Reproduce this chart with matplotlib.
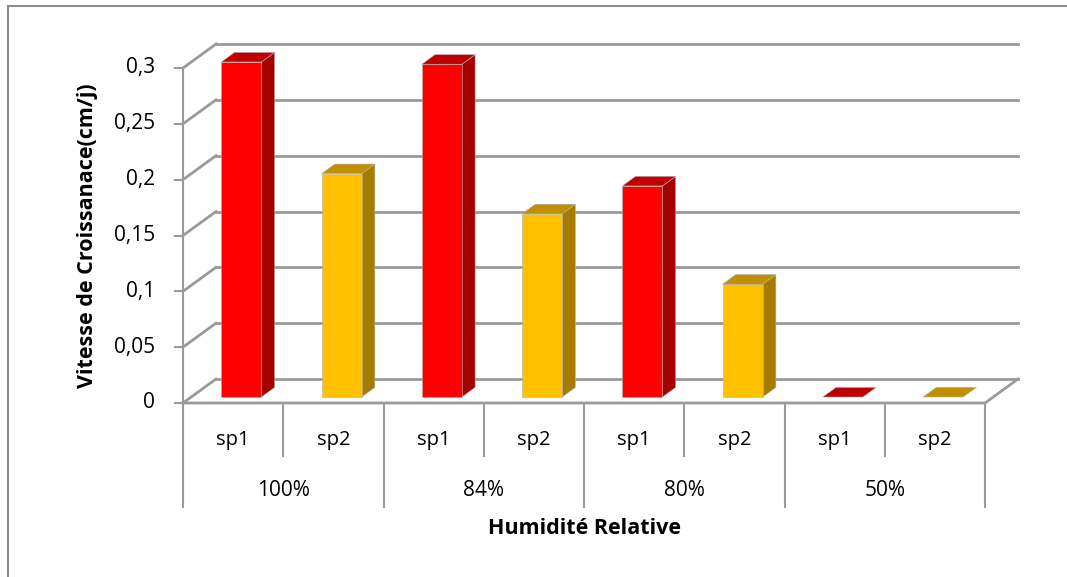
import matplotlib.pyplot as plt
from matplotlib.patches import Polygon

# donnees
groupes = ['100%', '84%', '80%', '50%']
especes = ['sp1', 'sp2']
vitesse_sp1 = [0.30, 0.298, 0.189, 0.0]
vitesse_sp2 = [0.20, 0.164, 0.101, 0.0]
graduations = [0, 0.05, 0.1, 0.15, 0.2, 0.25, 0.3]
labels_grad = ['0', '0,05', '0,1', '0,15', '0,2', '0,25', '0,3']

# couleurs (face, cote, dessus)
couleurs = {
    'sp1': ('#FF0000', '#A50000', '#C00000'),
    'sp2': ('#FFC000', '#A67C00', '#C09000'),
}

W, H = 1067, 577
fig = plt.figure(figsize=(W / 100, H / 100), dpi=100)
fig.patch.set_facecolor('white')

# cadre exterieur (seulement haut et gauche visibles)
fig.add_artist(plt.Line2D([8 / W, 1.0], [1 - 6 / H, 1 - 6 / H], color='#8c8c8c', lw=1.5))
fig.add_artist(plt.Line2D([8 / W, 8 / W], [0, 1 - 6 / H], color='#8c8c8c', lw=1.5))

x0, x1, yb, yt = 183, 985, 403, 68
ax = fig.add_axes([x0 / W, 1 - yb / H, (x1 - x0) / W, (yb - yt) / H])
n = len(groupes) * len(especes)
ax.set_xlim(0, n)
ax.set_ylim(0, 0.3)
ax.axis('off')

px_x = n / (x1 - x0)
px_y = 0.3 / (yb - yt)
DX = 33 * px_x
DY = 24 * px_y
gris = '#9a9a9a'
police = 'Open Sans'
taille = 14.5

# mur du fond et cote gauche
for g, lab in zip(graduations, labels_grad):
    ax.plot([DX, n + DX], [g + DY, g + DY], color=gris, lw=2, clip_on=False, zorder=1)
    ax.plot([0, DX], [g, g + DY], color=gris, lw=2, clip_on=False, zorder=1)
    ax.plot([-8 * px_x, 0], [g, g], color=gris, lw=1.5, clip_on=False)
    ax.text(-28 * px_x, g, lab, ha='right', va='center', fontsize=15, family=police)

# sol
ax.plot([0, n, n + DX], [0, 0, DY], color=gris, lw=2, clip_on=False, zorder=1)
ax.plot([0, 0], [0, 0.3], color=gris, lw=1.5, clip_on=False, zorder=2)

# barres 3D
larg = 0.4
f0, prof = 0.25, 0.4
valeurs = []
for i in range(len(groupes)):
    valeurs.append(('sp1', vitesse_sp1[i]))
    valeurs.append(('sp2', vitesse_sp2[i]))

for k, (sp, v) in enumerate(valeurs):
    face, cote, dessus = couleurs[sp]
    xl = k + 0.5 - larg / 2 + f0 * DX
    xr = xl + larg
    yb0 = f0 * DY
    ddx, ddy = prof * DX, prof * DY
    top = yb0 + v
    if v > 0:
        ax.add_patch(Polygon([(xr, yb0), (xr + ddx, yb0 + ddy), (xr + ddx, top + ddy), (xr, top)],
                             closed=True, fc=cote, ec='#b0b0b0', lw=0.4, clip_on=False, zorder=3))
        ax.add_patch(Polygon([(xl, yb0), (xr, yb0), (xr, top), (xl, top)],
                             closed=True, fc=face, ec='#b0b0b0', lw=0.4, clip_on=False, zorder=3))
    ax.add_patch(Polygon([(xl, top), (xr, top), (xr + ddx, top + ddy), (xl + ddx, top + ddy)],
                         closed=True, fc=dessus, ec='#b0b0b0', lw=0.4, clip_on=False, zorder=3))

# etiquettes categories
for k in range(n + 1):
    bas = 507 if k % 2 == 0 else 456
    ax.plot([k, k], [-2 * px_y, -(bas - yb) * px_y], color=gris, lw=1.5, clip_on=False)
for k, (sp, v) in enumerate(valeurs):
    ax.text(k + 0.5, -(440 - yb) * px_y, sp, ha='center', va='center', fontsize=taille, family=police)
for i, g in enumerate(groupes):
    ax.text(2 * i + 1, -(490 - yb) * px_y, g, ha='center', va='center', fontsize=15, family=police)

ax.text(n / 2, -(529 - yb) * px_y, 'Humidité Relative', ha='center', va='center',
        fontsize=15.5, fontweight='bold', family='Open Sans')
ax.text(-(183 - 88) * px_x, 0.15, 'Vitesse de Croissanace(cm/j)', ha='center', va='center',
        rotation=90, fontsize=15.5, fontweight='bold', family='Open Sans')

fig.savefig('out.png', dpi=100)
